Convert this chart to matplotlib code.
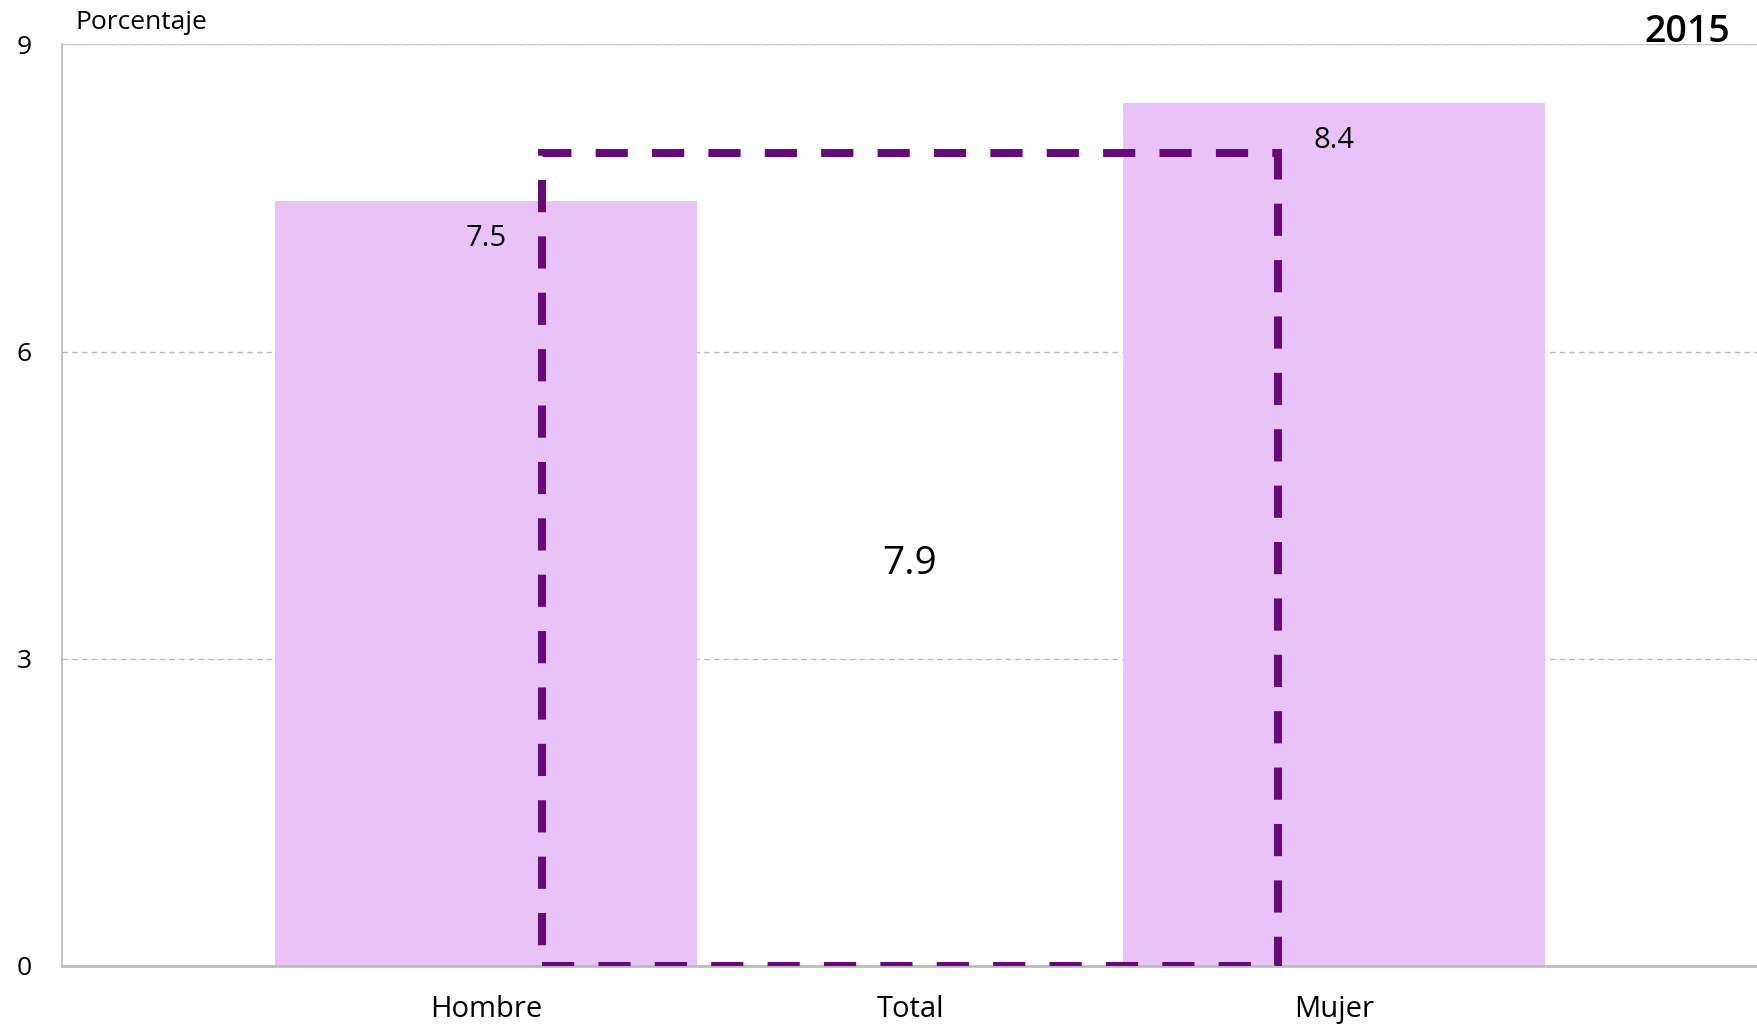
import matplotlib
matplotlib.use("Agg")
import matplotlib.pyplot as plt

categories = ["Hombre", "Total", "Mujer"]
values = [7.47, 7.94, 8.43]
y_ticks = [0, 3, 6, 9]

bar_color = "#E9C3F8"
line_color = "#660A7A"

plt.rcParams['font.family'] = ['Open Sans', 'DejaVu Sans']

fig = plt.figure(figsize=(17.58, 10.25), dpi=100)
ax = fig.add_axes([0.0353, 0.058, 0.9647, 0.8986])

x = [0, 1, 2]
# hombre and mujer as filled bars
ax.bar([x[0], x[2]], [values[0], values[2]], width=0.995, color=bar_color, zorder=2)
# total as dashed outline box
ax.bar(x[1], values[1], width=1.735, fill=False, edgecolor=line_color,
       linewidth=5.8, linestyle=(0, (4, 3)), zorder=3)

ax.text(x[0], values[0] - 0.33, f"{values[0]:.1f}", ha="center", va="center_baseline", fontsize=21, zorder=4)
ax.text(x[2], values[2] - 0.33, f"{values[2]:.1f}", ha="center", va="center_baseline", fontsize=21, zorder=4)
ax.text(x[1], values[1] / 2, f"{values[1]:.1f}", ha="center", va="center_baseline", fontsize=28, zorder=4)

ax.set_xlim(-1, 3)
ax.set_ylim(0, 9)
ax.set_xticks(x)
ax.set_xticklabels(categories, fontsize=21)
ax.set_yticks(y_ticks)
ax.set_yticklabels([str(t) for t in y_ticks], fontsize=19)
ax.tick_params(axis="x", length=0, pad=21)
ax.tick_params(axis="y", length=0, pad=22)

ax.grid(axis="y", color="#BBBBBB", linestyle=(0, (4, 3)), linewidth=1, zorder=1)
ax.set_axisbelow(True)
ax.axhline(9, color="#C4C4C4", linewidth=1.5, zorder=1)

ax.spines["right"].set_visible(False)
ax.spines["top"].set_visible(False)
ax.spines["left"].set_color("#C4C4C4")
ax.spines["left"].set_linewidth(1.5)
ax.spines["bottom"].set_color("#BDBDBD")
ax.spines["bottom"].set_linewidth(2)

fig.text(0.0427, 0.972, "Porcentaje", fontsize=19, ha="left", va="baseline")
fig.text(0.984, 0.9595, "2015", fontsize=27, fontweight="semibold", ha="right", va="baseline")

fig.savefig("out.png", dpi=100)
